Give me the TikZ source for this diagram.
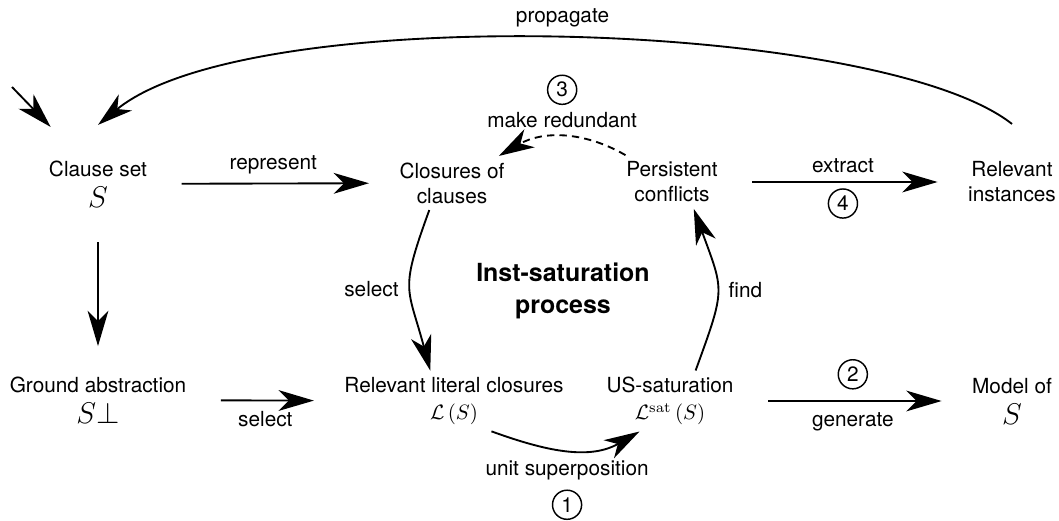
\documentclass[tikz,border=0pt]{standalone}
\usepackage[no-math]{fontspec}
\setmainfont{TeX Gyre Heros}
\usetikzlibrary{arrows.meta,positioning}

\begin{document}
\begin{tikzpicture}[x=0.481pt, y=0.481pt,
  >={Stealth[length=17pt,width=10pt,inset=5pt]},
  every node/.style={inner sep=3pt, align=center},
  flow/.style={->, line width=0.9pt, shorten <=13.5pt, shorten >=11.5pt},
  arc/.style={->, line width=0.9pt},
  num/.style={draw, circle, line width=0.7pt, minimum size=14pt, inner sep=0pt}]

  \useasboundingbox (0,0) rectangle (1059,520);

  % Outer column nodes
  \node (clause) at (98,336) {Clause set\\[3pt]{\Large $S$}};
  \node (ground) at (98,120) {Ground abstraction\\[3pt]{\Large $S\bot$}};
  \node (instances) at (1012,338) {Relevant\\instances};
  \node (model) at (1012,119) {Model of\\[3pt]{\Large $S$}};

  % The cycle in the middle
  \node (closures) at (452,337) {Closures of\\clauses};
  \node (persist) at (672,338) {Persistent\\conflicts};
  \node (litcl) at (454,119) {Relevant literal closures\\[1pt]$\mathcal{L}\left(S\right)$};
  \node (ussat) at (670,119) {US-saturation\\[1pt]$\mathcal{L}^{\mathrm{sat}}\left(S\right)$};
  \node[font=\large\bfseries] (process) at (563,229) {Inst-saturation\\[1.5pt]process};

  % Straight steps
  \draw[flow] (clause) -- (closures) node[midway, above=1pt] {represent};
  \draw[flow] (clause) -- (ground);
  \draw[flow] (ground) -- (litcl) node[midway, below=2pt] {select};
  \draw[flow] (persist) -- (instances) node[midway, above=1pt] {extract}
    node[num, midway, below=3pt] {4};
  \draw[flow] (ussat) -- (model) node[midway, below=2pt] {generate}
    node[num, midway, above=5.5pt] {2};

  % Round the cycle
  \draw[arc] (closures.230) to[out=250, in=105, looseness=1.4]
    node[midway, left=2pt] {select} (litcl.128);
  \draw[arc] (litcl.321) to[out=-20, in=-150]
    node[midway, below=2pt] (unitlbl) {unit superposition} (ussat.225);
  \node[num, below=1pt of unitlbl] {1};
  \draw[arc] (ussat.50) to[out=70, in=-70, looseness=1.4]
    node[midway, right=2pt] {find} (persist.309);
  \draw[arc, dash pattern=on 3.5pt off 2.5pt] (persist.150) to[out=150, in=30]
    node[midway, above=1pt] (redlbl) {make redundant} (closures.30);
  \node[num, above=0pt of redlbl] {3};

  % Back to the clause set
  \draw[arc] ([yshift=15pt]instances.north) .. controls (880,500) and (250,520) ..
    node[pos=0.5, above=2pt] {propagate} ([yshift=14pt]clause.north);
  \coordinate (entry) at (12,433);
  \draw[arc] (entry) -- ([shift={(4pt,13pt)}]clause.north west);

\end{tikzpicture}
\end{document}
